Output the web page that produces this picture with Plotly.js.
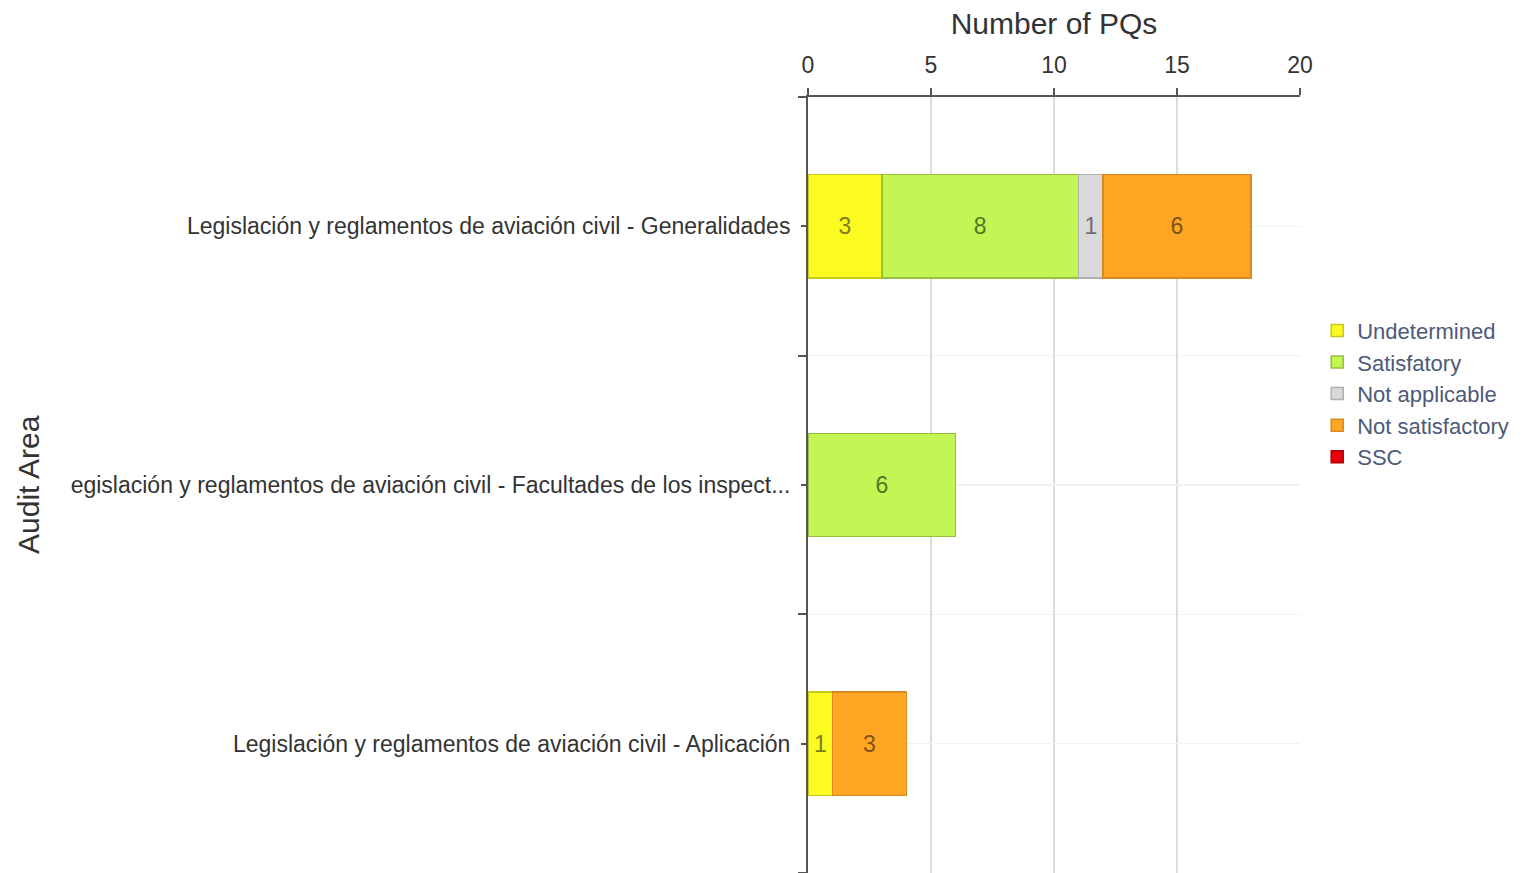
<!DOCTYPE html>
<html>
<head>
<meta charset="utf-8">
<script src="https://cdn.plot.ly/plotly-3.0.1.min.js"></script>
<style>
  html, body { margin: 0; padding: 0; background: #fff; }
  #chart { width: 1525px; height: 873px; }
</style>
</head>
<body>
<div id="chart"></div>
<script>
// audit areas, top to bottom
const areas = [
  'Legislación y reglamentos de aviación civil - Generalidades',
  'egislación y reglamentos de aviación civil - Facultades de los inspect...',
  'Legislación y reglamentos de aviación civil - Aplicación'
];

const statuses = ['Undetermined', 'Satisfatory', 'Not applicable', 'Not satisfactory', 'SSC'];

// number of PQs per status, one value per area
const undetermined = [3, 0, 1];
const satisfatory = [8, 6, 0];
const notApplicable = [1, 0, 0];
const notSatisfactory = [6, 0, 3];
const ssc = [0, 0, 0];

const seriesValues = [undetermined, satisfatory, notApplicable, notSatisfactory, ssc];
const fillColors = ['#fbfb22', '#c3f554', '#d9d9d9', '#ffa624', '#e8000b'];
const edgeColors = ['#c8c820', '#98c040', '#b0b0b0', '#d88a20', '#b00008'];
const textColors = ['#7d7d1c', '#4f7a25', '#6e6e6e', '#7d5418', '#ffffff'];

const yPos = areas.map((a, i) => i);

const traces = statuses.map((name, k) => ({
  type: 'bar',
  orientation: 'h',
  name: name,
  y: yPos,
  x: seriesValues[k].map(v => v || null),
  text: seriesValues[k].map(v => v ? String(v) : ''),
  textposition: 'inside',
  insidetextanchor: 'middle',
  constraintext: 'none',
  textfont: { size: 23, color: textColors[k], family: 'Arial, "Liberation Sans", sans-serif' },
  width: 0.4,
  marker: { color: fillColors[k], line: { color: edgeColors[k], width: 1.5 } },
  hoverinfo: 'x+name'
}));

const layout = {
  width: 1525,
  height: 873,
  margin: { l: 808, r: 225, t: 97, b: 0 },
  barmode: 'stack',
  paper_bgcolor: '#fff',
  plot_bgcolor: '#fff',
  font: { family: 'Arial, "Liberation Sans", sans-serif', color: '#333', size: 20 },
  showlegend: true,
  legend: {
    traceorder: 'normal',
    x: 1.035, xanchor: 'left',
    y: 0.726, yanchor: 'top',
    font: { size: 22, color: '#4d5a78' },
    tracegroupgap: 0,
    itemwidth: 30
  },
  xaxis: {
    side: 'top',
    range: [0, 20],
    dtick: 5,
    tick0: 0,
    showline: true,
    linecolor: '#555',
    linewidth: 2,
    ticks: 'outside',
    ticklen: 7,
    tickwidth: 2,
    tickcolor: '#555',
    ticklabelstandoff: 6,
    showgrid: true,
    gridcolor: '#dcdcdc',
    gridwidth: 1.5,
    zeroline: false,
    tickfont: { size: 23, color: '#333' },
    title: { text: 'Number of PQs', font: { size: 30, color: '#333' }, standoff: 8 },
    fixedrange: true
  },
  yaxis: {
    range: [2.5, -0.5],
    tickmode: 'array',
    tickvals: yPos,
    ticktext: areas,
    ticks: 'outside',
    ticklen: 5,
    tickwidth: 2,
    tickcolor: '#555',
    ticklabelstandoff: 6,
    showline: true,
    linecolor: '#555',
    linewidth: 2,
    showgrid: true,
    gridcolor: '#f2f2f2',
    gridwidth: 1.5,
    zeroline: false,
    tickfont: { size: 23, color: '#333' },
    minor: {
      tickmode: 'array',
      tickvals: [-0.5, 0.5, 1.5, 2.5],
      ticks: 'outside',
      ticklen: 8,
      tickwidth: 2,
      tickcolor: '#555',
      showgrid: true,
      gridcolor: '#f2f2f2',
      gridwidth: 1.5
    },
    automargin: false,
    fixedrange: true
  },
  annotations: [{
    text: 'Audit Area',
    xref: 'paper', yref: 'paper',
    x: (28 - 808) / 492, y: 0.5,
    xanchor: 'center', yanchor: 'middle',
    textangle: -90,
    showarrow: false,
    font: { size: 30, color: '#333' }
  }]
};

Plotly.newPlot('chart', traces, layout, { displayModeBar: false, staticPlot: true });
</script>
</body>
</html>
